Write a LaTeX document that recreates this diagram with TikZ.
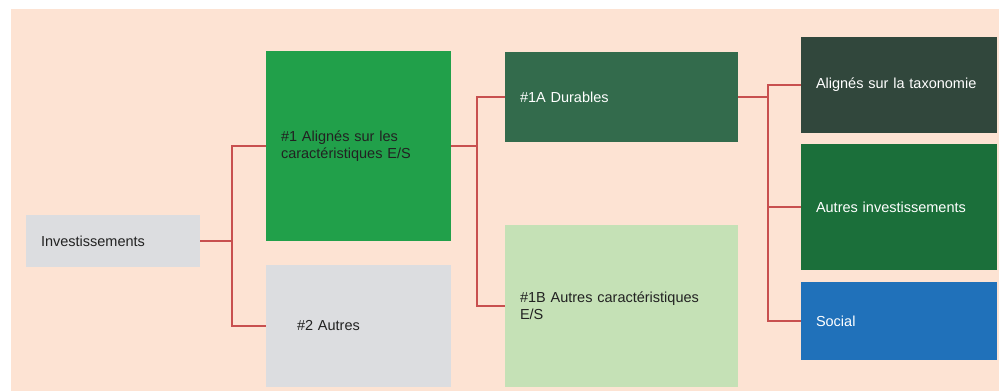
\documentclass[tikz,border=0pt]{standalone}
\usepackage{fontspec}
\setmainfont{Liberation Sans}
\usetikzlibrary{positioning}
\definecolor{peach}{HTML}{FDE3D3}
\definecolor{greybox}{HTML}{DCDDE0}
\definecolor{greenbox}{HTML}{21A04A}
\definecolor{durable}{HTML}{336B4C}
\definecolor{autrescar}{HTML}{C5E1B6}
\definecolor{taxo}{HTML}{31473C}
\definecolor{autresinv}{HTML}{1B6F3A}
\definecolor{social}{HTML}{2071BA}
\definecolor{linkred}{HTML}{C8504F}
\definecolor{darktext}{HTML}{222222}

\begin{document}
\begin{tikzpicture}[x=1pt,y=-1pt,
  box/.style={anchor=north west,inner xsep=15pt,inner ysep=0pt,outer sep=0pt,align=left,
    font=\fontsize{14.5}{17}\selectfont},
  link/.style={draw=linkred,line width=1.5pt}]
\useasboundingbox (0,0) rectangle (999,391);
\fill[peach](11,9) rectangle (999,391);
\node[box,fill=greybox,text=darktext,minimum width=174pt,minimum height=52pt,text width=144pt](inv) at (26,215){Investissements};
\node[box,fill=greenbox,text=darktext,minimum width=185pt,minimum height=190pt,text width=155pt](n1) at (266,51){\#1 Alignés sur les\\caractéristiques E/S};
\node[box,fill=greybox,text=darktext,minimum width=185pt,minimum height=122pt,text width=155pt](n2) at (266,265){\hspace*{16pt}\#2 Autres};
\node[box,fill=durable,text=white,minimum width=233pt,minimum height=90pt,text width=203pt](n1a) at (505,52){\#1A Durables};
\node[box,fill=autrescar,text=darktext,minimum width=233pt,minimum height=162pt,text width=203pt](n1b) at (505,225){\#1B Autres caractéristiques\\E/S};
\node[box,fill=taxo,text=white,minimum width=196pt,minimum height=96pt,text width=166pt](tax) at (801,37){Alignés sur la taxonomie};
\node[box,fill=autresinv,text=white,minimum width=196pt,minimum height=126pt,text width=166pt](oth) at (801,144){Autres investissements};
\node[box,fill=social,text=white,minimum width=196pt,minimum height=78pt,text width=166pt](soc) at (801,282){Social};
\draw[link](inv.east)--+(32,0)|-(n1.west);
\draw[link](inv.east)--+(32,0)|-(n2.west);
\draw[link](n1.east)--+(26,0)|-(n1a.west);
\draw[link](n1.east)--+(26,0)|-(n1b.west);
\draw[link](n1a.east)--+(30,0)|-(tax.west);
\draw[link](n1a.east)--+(30,0)|-(oth.west);
\draw[link](n1a.east)--+(30,0)|-(soc.west);
\end{tikzpicture}
\end{document}
